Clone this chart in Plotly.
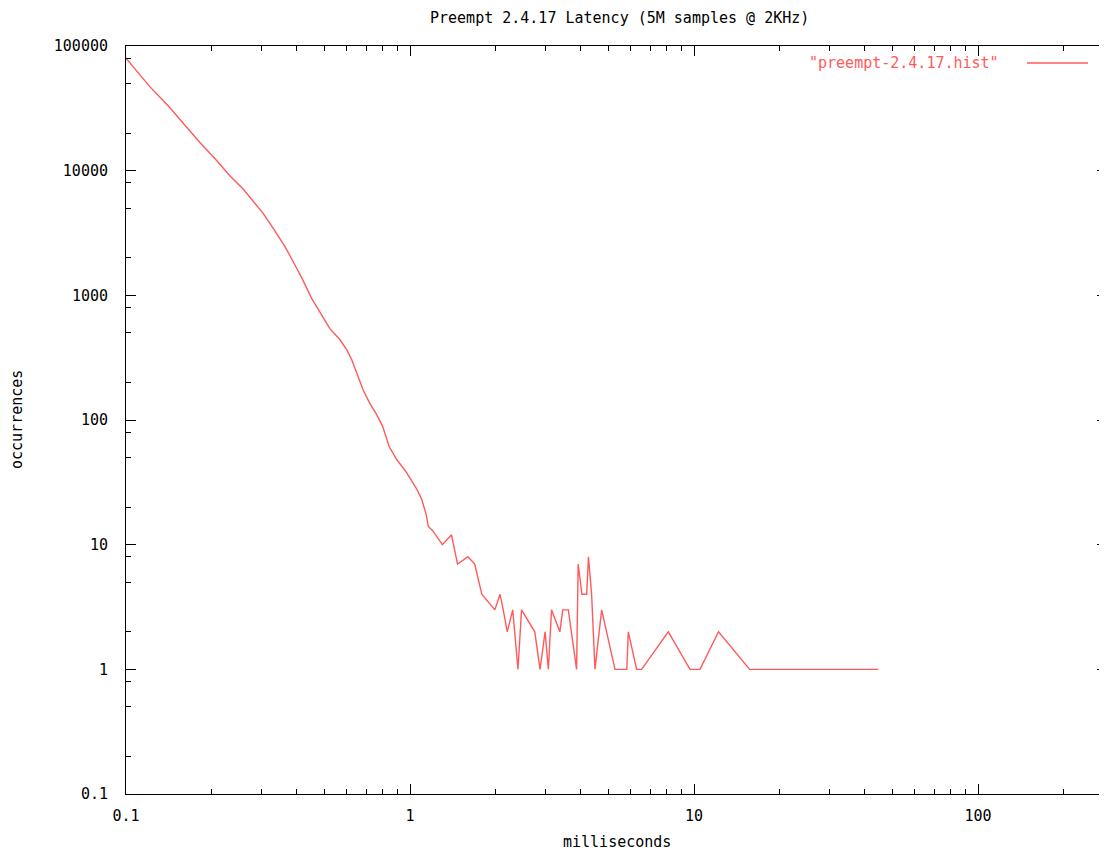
import plotly.graph_objects as go

# ---- data ----
latency_ms = [0.1, 0.1215, 0.141, 0.161, 0.182, 0.209, 0.232, 0.259, 0.284, 0.304,
              0.330, 0.363, 0.388, 0.418, 0.450, 0.488, 0.522, 0.567, 0.599, 0.624,
              0.657, 0.684, 0.722, 0.759, 0.801, 0.845, 0.899, 0.968, 1.01, 1.06,
              1.10, 1.14, 1.16, 1.20, 1.30, 1.40, 1.47, 1.60, 1.69, 1.79,
              1.99, 2.075, 2.13, 2.20, 2.30, 2.40, 2.47, 2.75, 2.87, 2.99,
              3.07, 3.15, 3.37, 3.45, 3.61, 3.86, 3.91, 4.03, 4.19, 4.25,
              4.36, 4.48, 4.73, 5.27, 5.80, 5.87, 6.28, 6.54, 8.12, 9.68,
              10.5, 12.2, 15.7, 44.6]
occurrences = [80000, 47000, 33000, 23200, 16800, 12000, 9100, 7100, 5500, 4550,
               3450, 2460, 1860, 1350, 950, 690, 540, 440, 365, 303,
               223, 174, 136, 113, 89, 61, 48, 38.6, 33, 27.5,
               23, 17.5, 14, 13, 10, 12, 7, 8, 7, 4,
               3, 4, 3, 2, 3, 1, 3, 2, 1, 2,
               1, 3, 2, 3, 3, 1, 7, 4, 4, 8,
               4, 1, 3, 1, 1, 2, 1, 1, 2, 1,
               1, 2, 1, 1]

x_tick_vals = [0.1, 1, 10, 100]
x_tick_text = ["0.1", "1", "10", "100"]
y_tick_vals = [0.1, 1, 10, 100, 1000, 10000, 100000]
y_tick_text = ["0.1", "1", "10", "100", "1000", "10000", "100000"]

title_text = "Preempt 2.4.17 Latency (5M samples @ 2KHz)"
series_name = '"preempt-2.4.17.hist"'
x_title = "milliseconds"
y_title = "occurrences"

# minor tick positions (gnuplot style)
x_minor = [m * 10.0 ** e for e in range(-1, 3) for m in range(2, 10)]
y_minor = [m * 10.0 ** e for e in range(-1, 5) for m in (2, 5, 8)]

FONT = "DejaVu Sans Mono"
FS = 15
LINE_COLOR = "#ff5a5a"

# page has an 8px body margin; figure is placed at (8, 8)
OFF = 8
W, H = 1107 - OFF, 854 - OFF
L, R, T, B = 126 - OFF, 0, 46 - OFF, H - (794 - OFF)
PW, PH = W - L - R, H - T - B

x_range = [-1, 2 + (1107 - 978) / 284.0]
y_range = [-1, 5]


def px(xpage):
    return (xpage - OFF - L) / PW


def py(ypage):
    return (H - B - (ypage - OFF)) / PH


fig = go.Figure()
fig.add_trace(go.Scatter(x=latency_ms, y=occurrences, mode="lines",
                         line=dict(color=LINE_COLOR, width=1.4),
                         name=series_name, showlegend=False))
# invisible trace carrying right-side y ticks
fig.add_trace(go.Scatter(x=latency_ms, y=occurrences, mode="lines",
                         line=dict(width=0), opacity=0, yaxis="y2",
                         showlegend=False, hoverinfo="skip"))

axis_common = dict(showgrid=False, zeroline=False, ticks="inside",
                   tickcolor="black", tickwidth=1, linecolor="black",
                   linewidth=1, automargin=False,
                   tickfont=dict(family=FONT, size=FS, color="black"))

fig.update_layout(
    width=W, height=H,
    margin=dict(l=L, r=R, t=T, b=B),
    paper_bgcolor="white", plot_bgcolor="white",
    xaxis=dict(type="log", range=x_range, tickvals=x_tick_vals, ticktext=x_tick_text,
               showline=True, mirror="ticks", ticklen=10, ticklabelstandoff=8,
               minor=dict(tickvals=x_minor, ticks="inside", ticklen=5,
                          tickcolor="black", tickwidth=1),
               **axis_common),
    yaxis=dict(type="log", range=y_range, tickvals=y_tick_vals, ticktext=y_tick_text,
               showline=True, mirror=False, ticklen=10, ticklabelstandoff=14,
               minor=dict(tickvals=y_minor, ticks="inside", ticklen=5,
                          tickcolor="black", tickwidth=1),
               **axis_common),
    yaxis2=dict(type="log", range=y_range, overlaying="y", side="right",
                tickvals=y_tick_vals, showticklabels=False, showline=False,
                showgrid=False, zeroline=False, ticks="inside", ticklen=10,
                tickcolor="black", tickwidth=1, automargin=False,
                minor=dict(tickvals=y_minor, ticks="inside", ticklen=5,
                           tickcolor="black", tickwidth=1)),
    showlegend=False,
)

# title and axis titles as text placed like gnuplot
fig.add_annotation(text=title_text, xref="paper", yref="paper", x=px(619), y=py(18),
                   xanchor="center", yanchor="middle", showarrow=False,
                   font=dict(family=FONT, size=FS, color="black"))
fig.add_annotation(text=x_title, xref="paper", yref="paper", x=px(617), y=py(842),
                   xanchor="center", yanchor="middle", showarrow=False,
                   font=dict(family=FONT, size=FS, color="black"))
fig.add_annotation(text=y_title, xref="paper", yref="paper", x=px(17), y=py(420),
                   xanchor="center", yanchor="middle", showarrow=False, textangle=-90,
                   font=dict(family=FONT, size=FS, color="black"))

# gnuplot-style key: text followed by a line sample
key_y = py(63)
fig.add_annotation(text=series_name, xref="paper", yref="paper",
                   x=px(1001), y=key_y, xanchor="right", yanchor="middle",
                   showarrow=False, font=dict(family=FONT, size=FS, color=LINE_COLOR))
fig.add_shape(type="line", xref="paper", yref="paper",
              x0=px(1027), x1=px(1088), y0=key_y, y1=key_y,
              line=dict(color=LINE_COLOR, width=1.4))

fig.write_html("out.html")
